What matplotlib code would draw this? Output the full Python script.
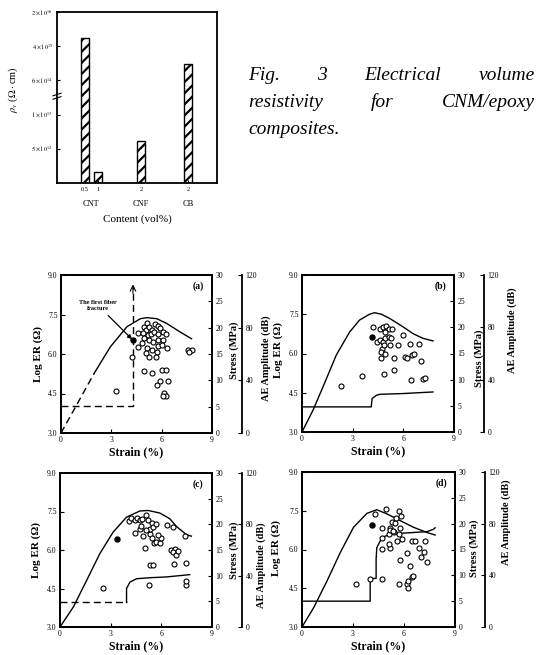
import matplotlib
matplotlib.use('Agg')
import matplotlib.pyplot as plt

plt.rcParams['font.family'] = ['Liberation Serif', 'DejaVu Serif']
plt.rcParams['mathtext.fontset'] = 'stix'
plt.rcParams['hatch.linewidth'] = 1.6

W, H = 544, 655

# --- Fig. 3: resistivity bars (broken axis, heights in axis units) ---
bar_x = [0.96, 1.41, 2.89, 4.5]
bar_h = [4.24, 0.32, 1.23, 3.48]
bar_ticklab = ['0.5', '1', '2', '2']
groups = ['CNT', 'CNF', 'CB']
group_x = [1.15, 2.89, 4.5]
rho_ticks = [1, 2, 3, 4, 5]
rho_labels = [r'$5\times10^{12}$', r'$1\times10^{13}$', r'$6\times10^{14}$',
              r'$4\times10^{15}$', r'$2\times10^{16}$']

# --- Fig. 4: stress (MPa), log ER (ohm) and AE amplitude (dB) vs strain (%) ---
a_s_x = [0, 0.98, 1.97, 2.95, 3.94, 4.73, 5.12, 5.71, 6.3, 7.09, 7.78]
a_s_y = [0, 5.6, 11.3, 16.4, 20.2, 21.7, 21.9, 21.7, 20.8, 19.2, 17.9]
a_er_x = [0, 4.29, 4.29]
a_er_y = [4.03, 4.03, 8.6]
a_ae_x = [3.25, 5.42, 4.92, 4.23, 6.0, 6.24, 5.71, 5.91, 6.40, 6.16, 6.24, 6.1,
          4.57, 4.96, 5.06, 5.12, 5.26, 5.42, 5.61, 5.77, 5.91, 6.1, 6.26,
          4.88, 5.16, 5.36, 5.57, 5.79,
          4.92, 5.22, 5.51, 5.81, 6.1,
          4.57, 4.82, 5.12, 5.42, 5.81, 6.0, 6.3,
          5.71, 5.08, 5.22, 5.67,
          7.58, 7.78, 7.64]
a_ae_y = [32.0, 45.2, 47.2, 57.8, 47.7, 47.7, 36.3, 39.6, 39.6, 30.4, 27.9, 27.9,
          76.1, 80.7, 78.6, 83.7, 80.7, 78.1, 82.7, 81.2, 79.4, 76.9, 75.1,
          76.1, 74.3, 75.1, 76.9, 75.1,
          71.8, 70.5, 69.3, 70.5, 71.0,
          65.5, 68.0, 64.9, 63.4, 66.0, 66.7, 64.9,
          61.6, 60.4, 57.8, 57.8,
          63.4, 62.9, 61.4]
a_fill = (4.29, 70.5)

b_s_x = [0, 0.65, 1.24, 2.03, 2.82, 3.41, 4.0, 4.3, 4.7, 5.19, 5.98, 6.57, 7.16, 7.76]
b_s_y = [0, 4.15, 8.6, 14.7, 19.1, 21.4, 22.5, 22.8, 22.5, 21.7, 20.1, 18.8, 17.9, 17.4]
b_er_x = [0, 4.1, 4.15, 4.4, 4.6, 6.0, 7.75]
b_er_y = [3.96, 3.96, 4.28, 4.40, 4.44, 4.47, 4.53]
b_ae_x = [2.33, 3.57, 4.86, 5.43, 6.47, 7.16, 7.30,
          4.2, 4.6, 4.8, 4.95, 5.13, 5.31, 4.89,
          4.44, 4.6, 4.8, 4.93, 5.13, 5.29,
          5.19, 4.74, 4.66, 4.86, 4.66, 4.89, 5.43,
          5.68, 5.98, 6.08, 6.24, 6.41, 6.53, 6.61, 6.91, 7.07]
b_ae_y = [35.0, 42.6, 44.7, 47.7, 39.6, 40.6, 41.6,
          80.4, 79.1, 80.4, 81.2, 79.1, 79.1, 76.6,
          68.9, 70.2, 68.9, 72.2, 72.8, 71.5,
          66.4, 63.8, 61.3, 66.4, 56.9, 59.5, 56.2,
          66.4, 73.8, 57.4, 56.2, 66.9, 59.2, 60.0, 66.9, 54.4]
b_fill = (4.12, 72.8)

c_s_x = [0, 0.79, 1.58, 2.36, 3.15, 3.94, 4.73, 5.22, 5.91, 6.5, 6.89, 7.48, 7.78]
c_s_y = [0, 3.9, 9.1, 14.3, 18.5, 21.4, 22.6, 22.7, 22.2, 21.1, 19.6, 18.0, 17.7]
c_er_x = [0, 3.94, 3.94, 4.14, 4.53, 5.32, 6.3, 7.68]
c_er_y = [3.96, 3.96, 4.5, 4.75, 4.88, 4.92, 4.95, 5.04]
c_ae_x = [2.52, 5.26, 7.48, 7.48,
          5.32, 5.51, 6.75, 7.44,
          6.6, 6.79, 6.69, 6.85, 6.99,
          5.06, 5.55, 5.71, 5.95, 6.0, 5.32, 5.47, 4.92, 4.43, 4.73,
          4.1, 4.23, 4.43, 4.57, 4.73, 4.88, 5.08, 5.22, 5.42, 5.32, 5.51, 5.71,
          4.82, 5.08, 5.81, 6.36, 6.69, 7.42]
c_ae_y = [30.4, 32.5, 32.5, 35.8,
          48.0, 48.0, 49.3, 49.9,
          60.3, 61.0, 58.4, 55.8, 59.6,
          61.8, 65.4, 66.2, 65.4, 69.6, 72.2, 69.6, 70.6, 73.5, 76.6,
          82.6, 85.2, 83.6, 85.2, 83.1, 84.4, 87.0, 83.1, 81.0, 76.6, 77.9, 80.5,
          78.4, 75.3, 71.4, 79.2, 77.9, 70.6]
c_fill = (3.39, 68.8)

d_s_x = [0, 0.68, 1.47, 2.25, 3.03, 3.82, 4.4, 4.99, 5.77, 6.56, 7.34, 7.83]
d_s_y = [0, 3.7, 8.9, 14.4, 19.3, 22.0, 22.7, 21.9, 20.6, 19.3, 18.3, 17.8]
d_er_x = [0, 4.01, 4.01, 4.36, 4.36, 4.4, 4.6, 4.89, 5.58, 6.36, 7.34, 7.73, 7.83]
d_er_y = [4.0, 4.0, 4.88, 4.88, 5.62, 6.07, 6.33, 6.52, 6.62, 6.65, 6.69, 6.78, 6.84]
d_ae_x = [3.19, 4.01, 4.7, 5.73, 6.16, 6.26, 6.46, 6.26, 6.52,
          6.36, 6.16, 5.77, 7.34, 7.0, 7.18, 6.87, 6.46, 6.65, 7.24,
          5.87, 5.58, 5.77, 4.7, 5.19, 5.09, 4.7, 4.7, 5.09,
          5.19, 5.19, 5.42, 5.28, 5.48, 5.54, 4.95, 4.31, 5.73, 5.81, 5.68, 5.38]
d_ae_y = [33.5, 36.9, 36.9, 33.0, 33.0, 30.4, 38.7, 35.6, 39.5,
          47.2, 57.5, 51.6, 50.6, 54.2, 58.3, 61.4, 66.6, 66.6, 66.6,
          67.9, 66.6, 76.9, 60.1, 60.9, 64.5, 68.6, 76.9, 72.2,
          76.9, 74.8, 73.8, 81.5, 80.8, 84.1, 91.1, 87.2, 89.8, 85.9, 71.7, 74.3]
d_fill = (4.11, 78.9)


def box(l, t, r, b):
    return [l / W, 1 - b / H, (r - l) / W, (b - t) / H]


def ftext(x, y, s, **kw):
    return fig.text(x / W, 1 - y / H, s, **kw)


fig = plt.figure(figsize=(W / 100, H / 100), dpi=100)

# ---------------- bar chart ----------------
ax0 = fig.add_axes(box(57, 12, 217, 183))
ax0.bar(bar_x, bar_h, width=0.26, color='white', edgecolor='black',
        linewidth=1.0, hatch='///')
ax0.set_xlim(0, 5.5)
ax0.set_ylim(0, 5)
ax0.set_yticks(rho_ticks)
ax0.set_yticklabels(rho_labels, fontsize=4.5)
ax0.set_xticks(bar_x)
ax0.set_xticklabels(bar_ticklab, fontsize=4.5)
ax0.tick_params(axis='both', direction='in', length=2, width=0.8, pad=3)
for sp in ax0.spines.values():
    sp.set_linewidth(1.3)
for gx, g in zip(group_x, groups):
    ax0.text(gx, -0.12, g, transform=ax0.get_xaxis_transform(),
             ha='center', va='center', fontsize=6)
ftext(137, 219, 'Content (vol%)', ha='center', va='center', fontsize=8)
ftext(13, 90, r'$\rho_v$ ($\Omega\cdot$cm)', rotation=90, ha='center',
      va='center', fontsize=7.5)
# axis-break mark on the left spine
ax0.plot([-0.025, 0.025], [0.49, 0.505], transform=ax0.transAxes,
         color='black', lw=0.8, clip_on=False)
ax0.plot([-0.025, 0.025], [0.51, 0.525], transform=ax0.transAxes,
         color='black', lw=0.8, clip_on=False)

# caption, justified
cap_x0, cap_x1 = 248, 535
cap_lines = [(['Fig.', '3', 'Electrical', 'volume'], 80, True),
             (['resistivity', 'for', 'CNM/epoxy'], 107, True),
             (['composites.'], 134, False)]
fig.canvas.draw()
rend = fig.canvas.get_renderer()
for words, yb, just in cap_lines:
    ts = [ftext(0, yb, w, fontsize=14, style='italic', va='baseline')
          for w in words]
    ws = [t.get_window_extent(rend).width for t in ts]
    gap = (cap_x1 - cap_x0 - sum(ws)) / (len(words) - 1) if just else 0
    x = cap_x0
    for t, w in zip(ts, ws):
        t.set_x(x / W)
        x += w + gap

# ---------------- strain panels ----------------
panels = [
    ('(a)', (61, 275, 212, 433), a_s_x, a_s_y, a_er_x, a_er_y, a_ae_x, a_ae_y, a_fill,
     (38, 354), (234, 350), (266, 358)),
    ('(b)', (302, 275, 454, 432), b_s_x, b_s_y, b_er_x, b_er_y, b_ae_x, b_ae_y, b_fill,
     (278, 350), (479, 358), (512, 330)),
    ('(c)', (60, 473, 212, 627), c_s_x, c_s_y, c_er_x, c_er_y, c_ae_x, c_ae_y, c_fill,
     (36, 550), (234, 550), (261, 565)),
    ('(d)', (302, 472, 455, 627), d_s_x, d_s_y, d_er_x, d_er_y, d_ae_x, d_ae_y, d_fill,
     (276, 548), (474, 548), (506, 522)),
]

for tag, (l, t, r, b), sx, sy, ex, ey, aex, aey, fill, p_er, p_s, p_ae in panels:
    ax = fig.add_axes(box(l, t, r, b))
    ax_s = ax.twinx()
    ax_ae = ax.twinx()
    ax_ae.spines['right'].set_position(('axes', 1 + 30 / (r - l)))
    for sp in ['top', 'bottom', 'left']:
        ax_ae.spines[sp].set_visible(False)

    ax.set_xlim(0, 9)
    ax.set_ylim(3, 9)
    ax_s.set_ylim(0, 30)
    ax_ae.set_ylim(0, 120)
    ax.set_xticks([0, 3, 6, 9])
    ax.set_yticks([3.0, 4.5, 6.0, 7.5, 9.0])
    ax.set_yticklabels(['3.0', '4.5', '6.0', '7.5', '9.0'])
    ax_s.set_yticks([0, 5, 10, 15, 20, 25, 30])
    ax_ae.set_yticks([0, 40, 80, 120])
    for a in (ax, ax_s, ax_ae):
        a.tick_params(direction='in', length=3, width=0.8, labelsize=5.5, pad=2.5)
        for sp in a.spines.values():
            sp.set_linewidth(1.3)

    # AE hits
    ax_ae.scatter(aex, aey, s=13, facecolors='white', edgecolors='black',
                  linewidths=0.8, zorder=3)
    ax_ae.scatter([fill[0]], [fill[1]], s=13, color='black', zorder=4)

    # stress-strain curve
    if tag == '(a)':
        ax_s.plot(sx[:3], sy[:3], color='black', lw=1.0, ls=(0, (5, 3)))
        ax_s.plot(sx[2:], sy[2:], color='black', lw=1.0)
    else:
        ax_s.plot(sx, sy, color='black', lw=1.0)

    # electrical resistance
    if tag == '(a)':
        ax.plot(ex, ey, color='black', lw=1.0, ls=(0, (5, 3)))
        ax.annotate('', xy=(ex[-1], 8.75), xytext=(ex[-1], 8.2),
                    arrowprops=dict(arrowstyle='->', lw=0.8, color='black'))
        ax_ae.annotate('The first fiber\nfracture', xy=fill, xytext=(2.2, 97),
                       ha='center', va='center', fontsize=4.5, fontweight='bold',
                       arrowprops=dict(arrowstyle='-|>', lw=0.9, color='black',
                                       mutation_scale=6, shrinkB=1))
    elif tag == '(c)':
        ax.plot(ex[:2], ey[:2], color='black', lw=1.0, ls=(0, (5, 3)))
        ax.plot(ex[1:], ey[1:], color='black', lw=1.0)
    else:
        ax.plot(ex, ey, color='black', lw=1.0)

    ax.text(0.91, 0.93, tag, transform=ax.transAxes, ha='center', va='center',
            fontsize=7, fontweight='bold')
    ftext((l + r) / 2, b + 19, 'Strain (%)', ha='center', va='center',
          fontsize=8.5, fontweight='bold')
    ftext(p_er[0], p_er[1], 'Log ER (\u03a9)', rotation=90, ha='center',
          va='center', fontsize=8, fontweight='bold')
    ftext(p_s[0], p_s[1], 'Stress (MPa)', rotation=90, ha='center',
          va='center', fontsize=7.5, fontweight='bold')
    ftext(p_ae[0], p_ae[1], 'AE Amplitude (dB)', rotation=90, ha='center',
          va='center', fontsize=7.5, fontweight='bold')

fig.savefig('out.png', dpi=100)
